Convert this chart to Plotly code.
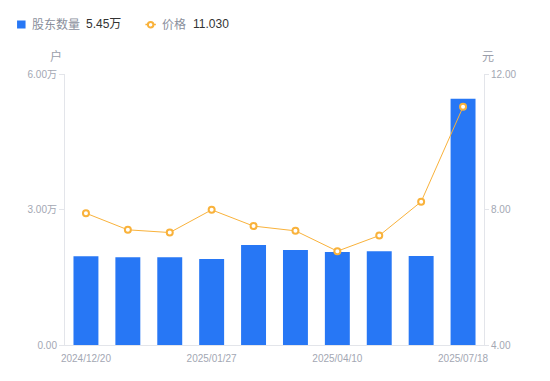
import plotly.graph_objects as go

dates = ["2024/12/20", "2024/12/31", "2025/01/10", "2025/01/27", "2025/02/28",
         "2025/03/31", "2025/04/10", "2025/04/30", "2025/06/30", "2025/07/18"]
holders_wan = [1.964, 1.942, 1.942, 1.904, 2.214, 2.103, 2.059, 2.074, 1.970, 5.45]
price = [7.89, 7.40, 7.32, 7.99, 7.51, 7.37, 6.77, 7.23, 8.23, 11.03]
left_ticks = [0, 3, 6]
left_ticktext = ["0.00", "3.00万", "6.00万"]
right_ticks = [4, 8, 12]
right_ticktext = ["4.00", "8.00", "12.00"]
xtick_dates = [dates[0], dates[3], dates[6], dates[9]]

BLUE = "#2777F5"
ORANGE = "#F9B23B"
GRAY = "#A3A7B3"
AXIS = "#E3E5EA"
FONT = "Liberation Sans, Noto Sans CJK SC, sans-serif"

# page body has an 8px margin; compensate so the chart lands where the reference has it
OFF = 8
W, H = 550 - OFF, 381 - OFF
L, R, T, B = 65 - OFF, 65.5, 74 - OFF, 36
pw, ph = W - L - R, H - T - B

fig = go.Figure()
fig.add_trace(go.Bar(x=dates, y=holders_wan, marker=dict(color=BLUE, line=dict(width=0)),
                     name="股东数量", yaxis="y"))
fig.add_trace(go.Scatter(x=dates, y=price, mode="lines+markers", name="价格", yaxis="y2",
                         line=dict(color=ORANGE, width=1),
                         marker=dict(size=6, color="white", line=dict(color=ORANGE, width=2))))


def px(x):
    return (x - OFF - L) / pw


def py(y):
    return (H - B - (y - OFF)) / ph


fig.update_layout(
    width=W, height=H, margin=dict(l=L, r=R, t=T, b=B),
    paper_bgcolor="white", plot_bgcolor="white",
    showlegend=False, bargap=0.405,
    font=dict(family=FONT, size=10, color=GRAY),
    xaxis=dict(type="category", tickmode="array", tickvals=xtick_dates, ticktext=xtick_dates,
               range=[-0.5, len(dates) - 0.5],
               showgrid=False, showline=True, linecolor=AXIS, linewidth=1,
               ticks="", ticklabelstandoff=4, tickfont=dict(size=10, color=GRAY), zeroline=False),
    yaxis=dict(range=[0, 6], tickmode="array", tickvals=left_ticks, ticktext=left_ticktext,
               showgrid=False, showline=True, linecolor=AXIS, linewidth=1,
               ticks="outside", ticklen=5, tickcolor=AXIS, tickfont=dict(size=10, color=GRAY),
               zeroline=False),
    yaxis2=dict(range=[4, 12], overlaying="y", side="right", tickmode="array",
                tickvals=right_ticks, ticktext=right_ticktext,
                showgrid=False, showline=True, linecolor=AXIS, linewidth=1,
                ticks="outside", ticklen=4, tickcolor=AXIS, tickfont=dict(size=10, color=GRAY),
                zeroline=False),
)

ann = []


def text(x, y, s, color, size=12, anchor="left"):
    ann.append(dict(x=px(x), y=py(y), xref="paper", yref="paper", text=s, showarrow=False,
                    xanchor=anchor, yanchor="middle", font=dict(size=size, color=color, family=FONT)))


text(30, 24.5, "股东数量", "#8A8F9C")
text(84, 24.5, "5.45万", "#333333")
text(160, 24.5, "价格", "#8A8F9C")
text(191, 24.5, "11.030", "#333333")
text(56, 57, "户", "#9A9EAA", 12, "center")
text(489, 57, "元", "#9A9EAA", 12, "center")
fig.update_layout(annotations=ann)

shapes = [
    dict(type="rect", xref="paper", yref="paper", x0=px(17), x1=px(25.5), y0=py(20.5), y1=py(28.5),
         fillcolor=BLUE, line=dict(width=0)),
    dict(type="line", xref="paper", yref="paper", x0=px(145.5), x1=px(156), y0=py(24.5), y1=py(24.5),
         line=dict(color=ORANGE, width=1.5)),
    dict(type="circle", xref="paper", yref="paper", x0=px(148), x1=px(153.5), y0=py(22), y1=py(27.5),
         fillcolor="white", line=dict(color=ORANGE, width=2)),
]
fig.update_layout(shapes=shapes)

fig.write_html("out.html")
